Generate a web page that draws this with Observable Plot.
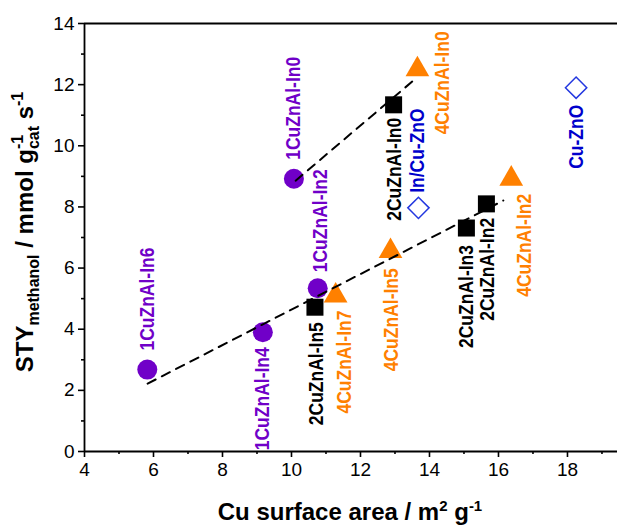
<!DOCTYPE html>
<html>
<head>
<meta charset="utf-8">
<script src="https://cdn.jsdelivr.net/npm/d3@7"></script>
<script src="https://cdn.jsdelivr.net/npm/@observablehq/plot@0.6"></script>
<style>
  html, body { margin: 0; padding: 0; background: #fff; }
  #chart svg { display: block; }
</style>
</head>
<body>
<div id="chart"></div>
<script>
// Space-time yield of methanol versus Cu surface area for the catalyst series.

// 1CuZnAl series (purple circles)
const cat1Names = ["1CuZnAl-In6", "1CuZnAl-In4", "1CuZnAl-In2", "1CuZnAl-In0"];
const cat1Area = [5.82, 9.17, 10.76, 10.07];
const cat1Sty = [2.68, 3.9, 5.34, 8.92];

// 2CuZnAl series (black squares)
const cat2Names = ["2CuZnAl-In5", "2CuZnAl-In0", "2CuZnAl-In3", "2CuZnAl-In2"];
const cat2Area = [10.68, 12.96, 15.07, 15.65];
const cat2Sty = [4.72, 11.34, 7.31, 8.1];

// 4CuZnAl series (orange triangles)
const cat4Names = ["4CuZnAl-In7", "4CuZnAl-In5", "4CuZnAl-In0", "4CuZnAl-In2"];
const cat4Area = [11.28, 12.87, 13.65, 16.37];
const cat4Sty = [5.1, 6.55, 12.5, 8.92];

// Reference catalysts (open blue diamonds)
const refNames = ["In/Cu-ZnO", "Cu-ZnO"];
const refArea = [13.68, 18.25];
const refSty = [7.97, 11.9];

// Dashed guide lines
const guideUpperArea = [10.12, 13.54];
const guideUpperSty = [8.86, 12.14];
const guideLowerArea = [5.83, 16.14];
const guideLowerSty = [2.22, 8.21];

// Axis ticks
const xMajorTicks = [4, 6, 8, 10, 12, 14, 16, 18];
const xMinorTicks = [5, 7, 9, 11, 13, 15, 17, 19];
const yMajorTicks = [0, 2, 4, 6, 8, 10, 12, 14];
const yMinorTicks = [1, 3, 5, 7, 9, 11, 13];

// Label placement: [dx, dy, anchor] in screen pixels, text rotated -90°
const cat1Place = [[0, -19, "start"], [0, 15, "end"], [3, -16, "start"], [0, -19, "start"]];
const cat2Place = [[2, 15, "end"], [1, 13, "end"], [0, 17, "end"], [1, 14, "end"]];
const cat4Place = [[9, 15, "end"], [1, 17, "end"], [25, 65, "start"], [13, 15, "end"]];
const refPlace = [[-1, -15, "start"], [0, 17, "end"]];

const PURPLE = "#7000c8";
const ORANGE = "#ff8000";
const BLUE_TEXT = "#0000cc";
const BLUE_SYMBOL = "#2438e0";
const FONT = "'Liberation Sans', Arial, Helvetica, sans-serif";

const rows = (names, xs, ys) => names.map((n, i) => ({name: n, x: xs[i], y: ys[i]}));
const cat1 = rows(cat1Names, cat1Area, cat1Sty);
const cat2 = rows(cat2Names, cat2Area, cat2Sty);
const cat4 = rows(cat4Names, cat4Area, cat4Sty);
const refs = rows(refNames, refArea, refSty);
const guideUpper = guideUpperArea.map((x, i) => ({x, y: guideUpperSty[i]}));
const guideLower = guideLowerArea.map((x, i) => ({x, y: guideLowerSty[i]}));

function labels(data, place, color) {
  return data.map((d, i) => Plot.text([d], {
    x: "x", y: "y", text: "name",
    rotate: -90,
    dx: place[i][0], dy: place[i][1],
    textAnchor: place[i][2],
    fill: color,
    fontSize: 17.5,
    fontWeight: "bold"
  }));
}

const tickStyle = {strokeWidth: 1.6};

const chart = Plot.plot({
  width: 617,
  height: 528,
  marginLeft: 84,
  marginRight: 0,
  marginTop: 23,
  marginBottom: 77,
  style: {fontFamily: FONT, fontSize: "19px", color: "#000", background: "#fff"},
  x: {domain: [4, 19.45]},
  y: {domain: [0, 14]},
  marks: [
    // frame
    Plot.ruleY([14], {stroke: "#000", strokeWidth: 1.8}),
    Plot.ruleY([0], {stroke: "#000", strokeWidth: 1.8}),
    Plot.ruleX([4], {stroke: "#000", strokeWidth: 1.8}),
    // axes
    Plot.axisX({ticks: xMajorTicks, tickSize: 6, tickPadding: 5, label: null, fontSize: 19, ...tickStyle}),
    Plot.axisX({ticks: xMinorTicks, tickSize: 3, tickFormat: () => "", label: null, ...tickStyle}),
    Plot.axisY({ticks: yMajorTicks, tickSize: 6, tickPadding: 4, label: null, fontSize: 19, ...tickStyle}),
    Plot.axisY({ticks: yMinorTicks, tickSize: 3, tickFormat: () => "", label: null, ...tickStyle}),
    // markers
    Plot.dot(cat1, {x: "x", y: "y", symbol: "circle", r: 10, fill: PURPLE}),
    Plot.dot(cat2, {x: "x", y: "y", symbol: "square", r: 9.6, fill: "#000"}),
    Plot.dot(cat4, {x: "x", y: "y", symbol: "triangle", r: 8.8, fill: ORANGE}),
    Plot.dot(refs, {x: "x", y: "y", symbol: "diamond2", r: 9.6, fill: "none", stroke: BLUE_SYMBOL, strokeWidth: 1.5}),
    // guide lines
    Plot.line(guideUpper, {x: "x", y: "y", stroke: "#000", strokeWidth: 2, strokeDasharray: "9,7"}),
    Plot.line(guideLower, {x: "x", y: "y", stroke: "#000", strokeWidth: 2, strokeDasharray: "9,7"}),
    // labels
    ...labels(cat1, cat1Place, PURPLE),
    ...labels(cat2, cat2Place, "#000"),
    ...labels(cat4, cat4Place, ORANGE),
    ...labels(refs, refPlace, BLUE_TEXT)
  ]
});

document.getElementById("chart").appendChild(chart);

const svg = d3.select(chart);

// Slightly heavier sample labels: widen the glyphs across the rotated baseline
svg.selectAll('g[aria-label="text"] text').each(function () {
  const t = this.getAttribute("transform") || "";
  this.setAttribute("transform", t + " scale(1,1.15)");
});

// Axis titles with sub- and superscripts
function addPart(text, str, opts = {}) {
  const t = text.append("tspan").text(str);
  if (opts.size) t.attr("font-size", opts.size);
  if (opts.dy) t.attr("dy", opts.dy);
  if (opts.dx) t.attr("dx", opts.dx);
  return t;
}

// x title
const xt = svg.append("text")
  .attr("x", 350).attr("y", 520)
  .attr("text-anchor", "middle")
  .attr("font-family", FONT).attr("font-weight", "bold").attr("font-size", 24)
  .attr("fill", "#000");
addPart(xt, "Cu surface area / m");
addPart(xt, "2", {size: 15, dy: -9});
addPart(xt, " g", {dy: 9});
addPart(xt, "-1", {size: 15, dy: -9});

// y title
const yt = svg.append("text")
  .attr("transform", "translate(33,232) rotate(-90)")
  .attr("text-anchor", "middle")
  .attr("font-family", FONT).attr("font-weight", "bold").attr("font-size", 24)
  .attr("fill", "#000");
addPart(yt, "STY");
addPart(yt, "methanol", {size: 16, dy: 6});
addPart(yt, " / mmol g", {dy: -6});
const sup = addPart(yt, "-1", {size: 16, dy: -10});
const supW = sup.node().getComputedTextLength();
addPart(yt, "cat", {size: 16, dy: 16, dx: -supW});
addPart(yt, " s", {dy: -6});
addPart(yt, "-1", {size: 16, dy: -10});
</script>
</body>
</html>
